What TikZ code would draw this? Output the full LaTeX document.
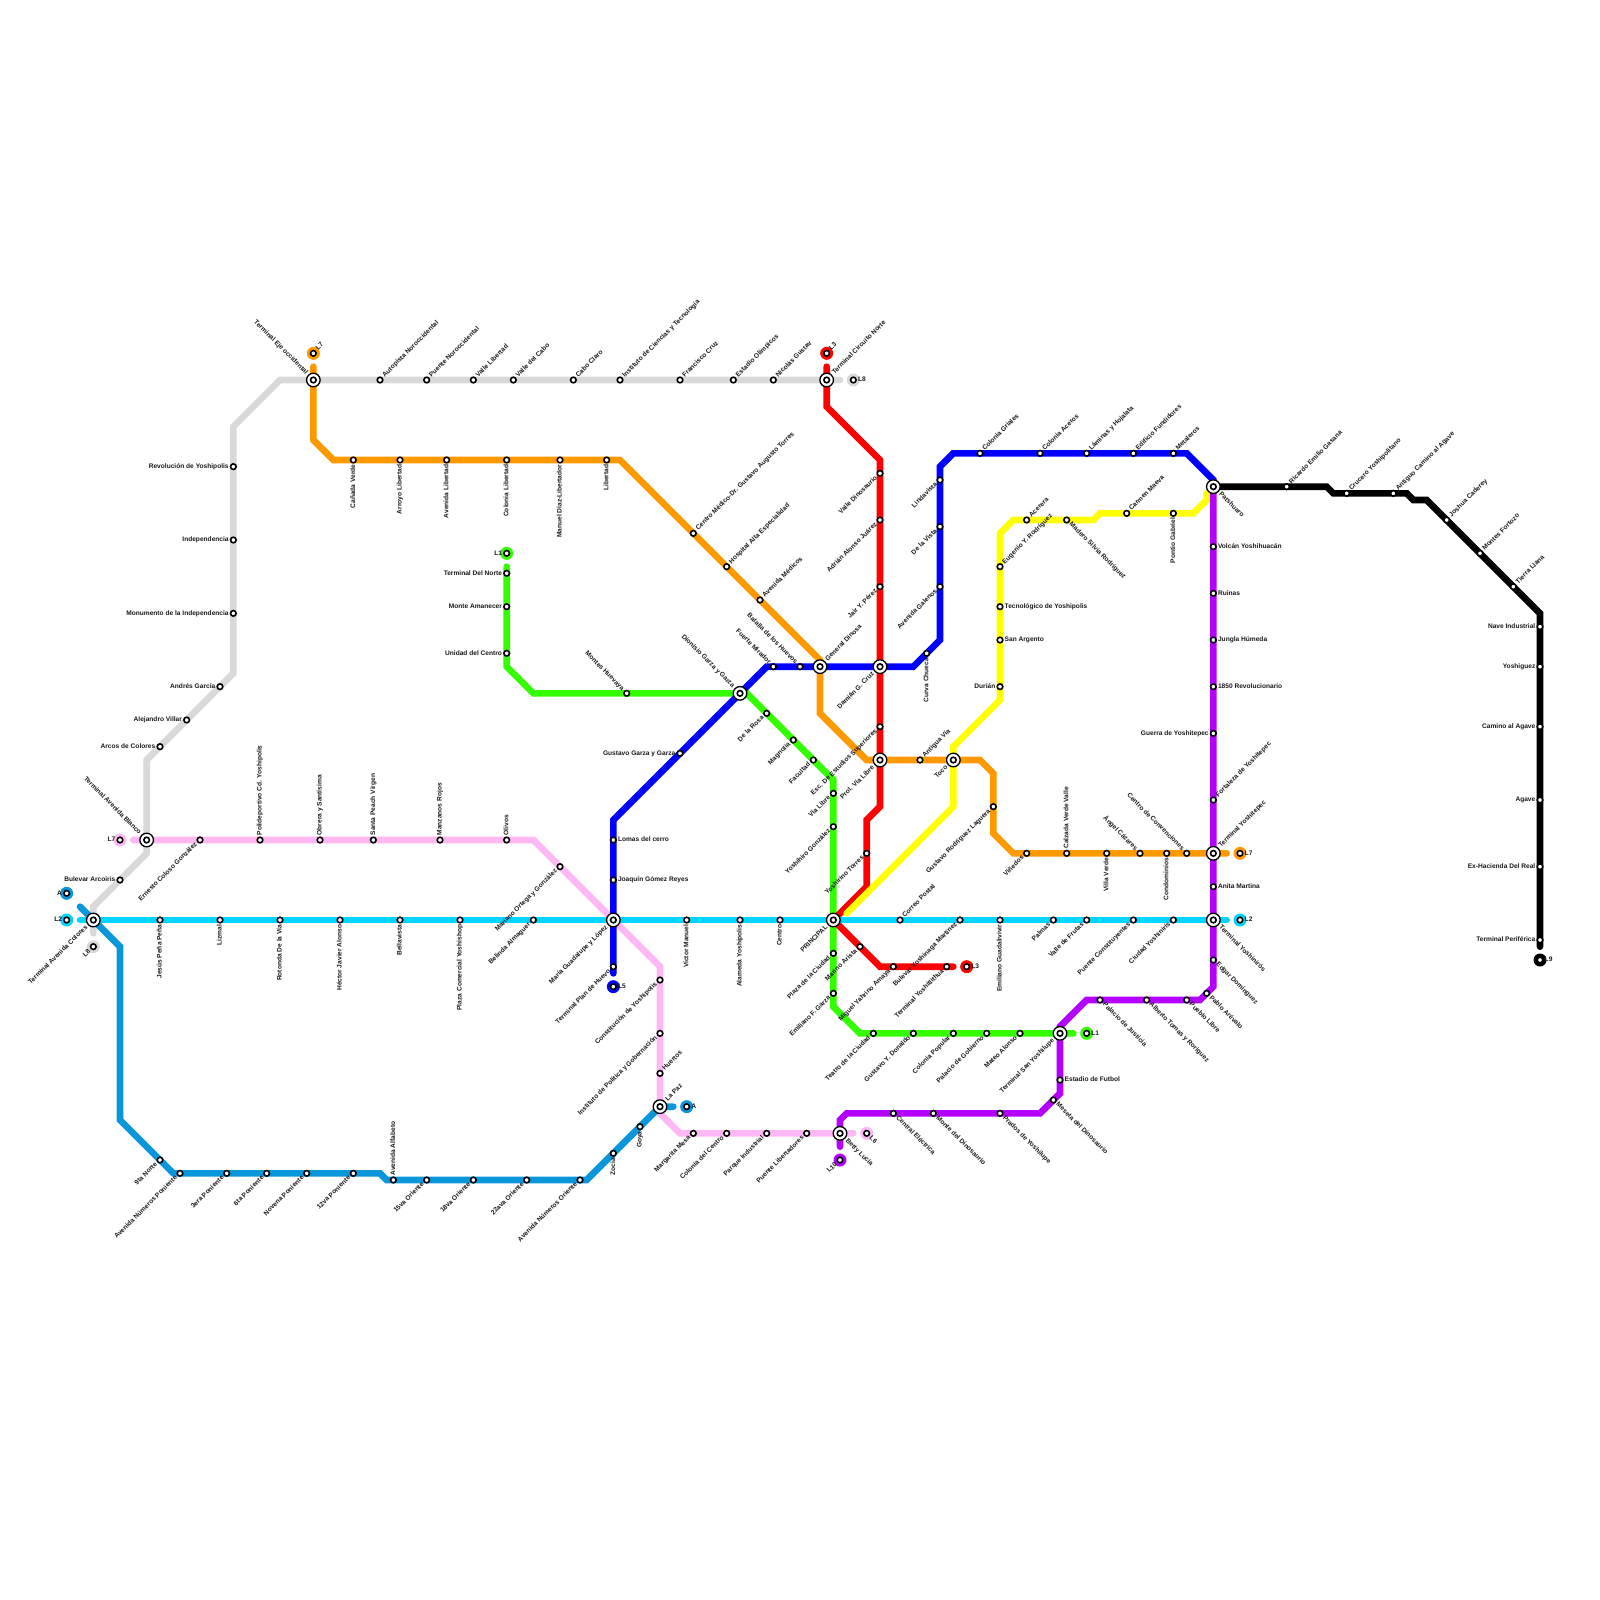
\documentclass[tikz,border=0pt]{standalone}
\usepackage{fontspec}
\setmainfont{Liberation Sans}
\definecolor{cL1}{HTML}{33FF00}
\definecolor{cL2}{HTML}{00D5FF}
\definecolor{cL3}{HTML}{FF0000}
\definecolor{cL4}{HTML}{FFFF00}
\definecolor{cL5}{HTML}{0000FF}
\definecolor{cL6}{HTML}{FFB8F6}
\definecolor{cL7}{HTML}{FF9900}
\definecolor{cL8}{HTML}{D9D9D9}
\definecolor{cL9}{HTML}{000000}
\definecolor{cL10}{HTML}{B300FF}
\definecolor{cLA}{HTML}{0A96DB}
\pgfdeclarelayer{lines}
\pgfsetlayers{lines,main}
\tikzset{
 metro/.style={line width=6.67pt,line cap=round,line join=miter,miter limit=10},
 stat/.style={circle,draw=black,fill=white,line width=1.6pt,inner sep=0pt,minimum size=5.6pt},
 ring/.style={circle,draw=black,fill=white,line width=1.3pt,inner sep=0pt,minimum size=13.6pt},
 halo/.style={circle,fill=#1,inner sep=0pt,minimum size=13pt},
 lab/.style={font=\bfseries\fontsize{6.6}{7}\selectfont,inner sep=0pt,text=black!90,text height=4.8pt,text depth=1.4pt},
 toR/.style={xshift={1.25*#1},anchor=west},
 toL/.style={xshift={-1.25*#1},anchor=east},
 toU/.style={yshift={1.25*#1},rotate=90,anchor=west},
 toD/.style={yshift={-1.25*#1},rotate=90,anchor=east},
 toUR/.style={shift={(#1,#1)},rotate=45,anchor=west},
 toDL/.style={shift={(-#1,-#1)},rotate=45,anchor=east},
 toUL/.style={shift={(-#1,#1)},rotate=-45,anchor=east},
 toDR/.style={shift={(#1,-#1)},rotate=-45,anchor=west},
}
% name x y dir text
\newcommand\st[5]{\node[stat] (#1) at (#2,#3) {};\node[lab,to#4=3.6pt] (#1-t) at (#2,#3) {#5};}
\newcommand\hub[5]{\node[ring] (#1-r) at (#2,#3) {};\node[stat] (#1) at (#2,#3) {};\node[lab,to#4=6.5pt] (#1-t) at (#2,#3) {#5};}
\newcommand\tm[6]{\node[halo=#4] (#1-h) at (#2,#3) {};\node[stat] (#1) at (#2,#3) {};\node[lab,to#5=3.6pt] (#1-t) at (#2,#3) {#6};}
\newcommand\bd[3]{\coordinate (#1) at (#2,#3);}
\begin{document}
\begin{tikzpicture}[x=6.66667pt,y=-6.66667pt]
\useasboundingbox (0,0) rectangle (240,240);
% hubs
\hub{eje}{47}{57}{UL}{Terminal Eje occidental}
\hub{circ}{124}{57}{UR}{Terminal Circuito Norte}
\hub{blanco}{22}{126}{UL}{Terminal Avenida Blanco}
\hub{colores}{14}{138}{DL}{Terminal Avenida Colores}
\hub{maria}{92}{138}{DL}{María Guadalupe y López}
\hub{princ}{125}{138}{DL}{PRINCIPAL}
\hub{dion}{111}{104}{UL}{Dionisio Garza y Garza}
\hub{dinosa}{123}{100}{UR}{General Dinosa}
\hub{damian}{132}{100}{DL}{Damián G. Cruz}
\hub{prol}{132}{114}{DL}{Prol. Vía Libre}
\hub{toco}{143}{114}{DL}{Toco}
\hub{patz}{182}{73}{DR}{Patshuaro}
\hub{yteq}{182}{128}{UR}{Terminal Yoshitepec}
\hub{ynir}{182}{138}{DR}{Terminal Yoshinirós}
\hub{sanyo}{159}{155}{DL}{Terminal San Yoshilupe}
\hub{betty}{126}{170}{DR}{Betty Lucía}
\hub{lapaz}{99}{166}{UR}{La Paz}
% terminals
\tm{t7a}{47}{53}{cL7}{UR}{L7}
\tm{t3a}{124}{53}{cL3}{UR}{L3}
\tm{t8b}{128}{57}{cL8}{R}{L8}
\tm{t6a}{18}{126}{cL6}{L}{L7}
\tm{tAa}{10}{134}{cLA}{L}{A}
\tm{t2a}{10}{138}{cL2}{L}{L2}
\tm{t8a}{14}{142}{cL8}{DL}{L8}
\tm{t1a}{76}{83}{cL1}{L}{L1}
\tm{t5a}{92}{148}{cL5}{R}{L5}
\tm{tAb}{103}{166}{cLA}{R}{A}
\tm{t6b}{130}{170}{cL6}{DR}{L6}
\tm{t10a}{126}{174}{cL10}{DL}{L10}
\tm{t3b}{145}{145}{cL3}{R}{L3}
\tm{t1b}{163}{155}{cL1}{R}{L1}
\tm{t7b}{186}{128}{cL7}{R}{L7}
\tm{t2b}{186}{138}{cL2}{R}{L2}
\tm{t9a}{231}{144}{cL9}{R}{L9}
% L8
\st{autop}{57}{57}{UR}{Autopista Noroccidental}
\st{puente}{64}{57}{UR}{Puente Noroccidental}
\st{vlib}{71}{57}{UR}{Valle Libertad}
\st{vcab}{77}{57}{UR}{Valle del Cabo}
\st{cabo}{86}{57}{UR}{Cabo Claro}
\st{inst}{93}{57}{UR}{Instituto de Ciencias y Tecnología}
\st{fran}{102}{57}{UR}{Francisco Cruz}
\st{estol}{110}{57}{UR}{Estadio Olímpicos}
\st{nico}{116}{57}{UR}{Nicolás Gustav}
\st{revo}{35}{70}{L}{Revolución de Yoshipolis}
\st{inde}{35}{81}{L}{Independencia}
\st{monu}{35}{92}{L}{Monumento de la Independencia}
\st{andres}{33}{103}{L}{Andrés García}
\st{aleja}{28}{108}{L}{Alejandro Villar}
\st{arcos}{24}{112}{L}{Arcos de Colores}
\st{bulev}{18}{132}{L}{Bulevar Arcoiris}
% L7
\st{canada}{53}{69}{D}{Cañada Verde}
\st{arroyo}{60}{69}{D}{Arroyo Libertad}
\st{avlib}{67}{69}{D}{Avenida Libertad}
\st{collib}{76}{69}{D}{Colonia Libertad}
\st{manuel}{84}{69}{D}{Manuel Díaz-Libertador}
\st{libert}{91}{69}{D}{Libertad}
\st{cmed}{104}{80}{UR}{Centro Médico-Dr. Gustavo Augusto Torres}
\st{hosp}{109}{85}{UR}{Hospital Alta Especialidad}
\st{avmed}{114}{90}{UR}{Avenida Médicos}
\st{antig}{138}{114}{UR}{Antigua Vía}
\st{gustr}{149}{121}{DL}{Gustavo Rodríguez Laguera}
\st{vined}{154}{128}{DL}{Viñedos}
\st{calz}{160}{128}{U}{Calzada Verde Valle}
\st{villa}{166}{128}{D}{Villa Verde}
\st{angel}{171}{128}{UL}{Ángel Cázares}
\st{condo}{175}{128}{D}{Condominios}
\st{conv}{178}{128}{UL}{Centro de Convenciones}
% L6
\st{ernes}{30}{126}{DL}{Ernesto Coloso González}
\st{polid}{39}{126}{U}{Polideportivo Cd. Yoshipolis}
\st{obrera}{48}{126}{U}{Obrera y Santísima}
\st{santa}{56}{126}{U}{Santa Peach Virgen}
\st{manz}{66}{126}{U}{Manzanos Rojos}
\st{oliv}{76}{126}{U}{Olivos}
\st{maort}{84}{130}{DL}{Mariano Ortega y González}
\st{const}{99}{147}{DL}{Constitución de Yoshipolis}
\st{ipol}{99}{155}{DL}{Instituto de Política y Gobernación}
\st{huer}{99}{161}{UR}{Huertos}
\st{marg}{104}{170}{DL}{Margarita Mesa}
\st{colc}{109}{170}{DL}{Colonia del Centro}
\st{parq}{115}{170}{DL}{Parque Industrial}
\st{plib}{121}{170}{DL}{Puente Libertadores}
% L2
\st{jesus}{24}{138}{D}{Jesús Peña Peña}
\st{lizm}{33}{138}{D}{Lizmal}
\st{roto}{42}{138}{D}{Rotonda De la Vía}
\st{hect}{51}{138}{D}{Héctor Javier Alonso}
\st{bella}{60}{138}{D}{Bellavista}
\st{plaz}{69}{138}{D}{Plaza Comercial Yoshishop}
\st{belin}{80}{138}{DL}{Belinda Almaguer}
\st{vict}{103}{138}{D}{Víctor Manuel}
\st{alam}{111}{138}{D}{Alameda Yoshipolis}
\st{centr}{117}{138}{D}{Centro}
\st{corr}{135}{138}{UR}{Correo Postal}
\st{bulv}{144}{138}{DL}{Bulevar Yoshinaga Martínez}
\st{emig}{150}{138}{D}{Emiliano Guadalivivir}
\st{palm}{158}{138}{DL}{Palmas}
\st{vfru}{163}{138}{DL}{Valle de Frutas}
\st{pcons}{170}{138}{DL}{Puente Constituyentes}
\st{cyos}{176}{138}{DL}{Ciudad Yoshinirís}
% L5
\st{tplan}{92}{145}{DL}{Terminal Plan de Huevo}
\st{lomas}{92}{126}{R}{Lomas del cerro}
\st{joaq}{92}{132}{R}{Joaquín Gómez Reyes}
\st{ggar}{102}{113}{L}{Gustavo Garza y Garza}
\st{fuer}{116}{100}{UL}{Fuerte Mirador}
\st{bata}{120}{100}{UL}{Batalla de los Huevos}
\st{curva}{139}{98}{D}{Curva Chueca}
\st{gale}{141}{88}{DL}{Avenida Galenos}
\st{dvis}{141}{79}{DL}{De la Vista}
\st{lind}{141}{72}{DL}{Lindavista}
\st{cgri}{147}{68}{UR}{Colonia Griales}
\st{cace}{156}{68}{UR}{Colonia Aceros}
\st{lami}{163}{68}{UR}{Láminas y Hojalata}
\st{edif}{170}{68}{UR}{Edificio Fundidores}
\st{meta}{176}{68}{UR}{Metaleros}
% L10
\st{volc}{182}{82}{R}{Volcán Yoshihuacán}
\st{ruin}{182}{89}{R}{Ruinas}
\st{jung}{182}{96}{R}{Jungla Húmeda}
\st{r1850}{182}{103}{R}{1850 Revolucionario}
\st{guer}{182}{110}{L}{Guerra de Yoshitepec}
\st{fort}{182}{120}{UR}{Fortaleza de Yoshitepec}
\st{anit}{182}{133}{R}{Anita Martina}
\st{edga}{182}{144}{DR}{Edgar Domínguez}
\st{pabl}{181}{149}{DR}{Pablo Arévalo}
\st{pueb}{178}{150}{DR}{Pueblo Libre}
\st{albe}{172}{150}{DR}{Alberto Tomas y Roriguez}
\st{pala}{165}{150}{DR}{Palacio de Justicia}
\st{esta}{159}{162}{R}{Estadio de Futbol}
\st{mese}{158}{165}{DR}{Meseta del Dinosaurio}
\st{prad}{150}{167}{DR}{Prados de Yoshilupe}
\st{mdin}{140}{167}{DR}{Monte del Dinosaurio}
\st{celc}{134}{167}{DR}{Central Eléctrica}
% L1
\st{tnor}{76}{86}{L}{Terminal Del Norte}
\st{mama}{76}{91}{L}{Monte Amanecer}
\st{ucen}{76}{98}{L}{Unidad del Centro}
\st{mhue}{94}{104}{UL}{Montes Huevaya}
\st{dros}{115}{107}{DL}{De la Rosa}
\st{magn}{119}{111}{DL}{Magnolia}
\st{facu}{122}{114}{DL}{Facultad}
\st{vlibr}{125}{119}{DL}{Vía Libre}
\st{yoshg}{125}{124}{DL}{Yoshihiro González}
\st{pciu}{125}{143}{DL}{Plaza de la Ciudad}
\st{emif}{125}{149}{DL}{Emiliano F. Garza}
\st{teat}{131}{155}{DL}{Teatro de la Ciudad}
\st{gdon}{137}{155}{DL}{Gustavo Y. Donaldo}
\st{cpop}{143}{155}{DL}{Colonia Popular}
\st{pgob}{148}{155}{DL}{Palacio de Gobierno}
\st{mate}{153}{155}{DL}{Mateo Alonso}
% L3
\st{vdin}{132}{71}{DL}{Valle Dinosaurio}
\st{adri}{132}{78}{DL}{Adrián Alonso Juárez}
\st{jair}{132}{88}{DL}{Jair Y. Pérez}
\st{escd}{132}{109}{DL}{Esc. De Estudios Superiores}
\st{ytor}{130}{128}{DL}{Yoshirino Torres}
\st{mari}{129}{142}{DL}{Marino Arista}
\st{migu}{134}{145}{DL}{Miguel Yahrino Amaya}
\st{tyos}{142}{145}{DL}{Terminal Yoshitlithua}
% L4
\st{duri}{150}{103}{L}{Durián}
\st{sarg}{150}{96}{R}{San Argento}
\st{tecn}{150}{91}{R}{Tecnológico de Yoshipolis}
\st{euge}{150}{85}{UR}{Eugenio Y. Rodríguez}
\st{acer}{154}{78}{UR}{Acerera}
\st{made}{160}{78}{DR}{Madero Silvia Rodríguez}
\st{carm}{169}{77}{UR}{Carmen Maeva}
\st{pont}{176}{77}{D}{Pontio Gabriel}
% L9
\st{rica}{193}{73}{UR}{Ricardo Emilio Gasana}
\st{cruc}{202}{74}{UR}{Crucero Yoshipolitano}
\st{anca}{209}{74}{UR}{Antiguo Camino al Agave}
\st{josh}{217}{78}{UR}{Joshua Caderey}
\st{mfor}{222}{83}{UR}{Montes Fortozo}
\st{tier}{227}{88}{UR}{Tierra Llana}
\st{nave}{231}{94}{L}{Nave Industrial}
\st{yosg}{231}{100}{L}{Yoshiguez}
\st{caag}{231}{109}{L}{Camino al Agave}
\st{agav}{231}{120}{L}{Agave}
\st{exha}{231}{130}{L}{Ex-Hacienda Del Real}
\st{tper}{231}{141}{L}{Terminal Periférica}
% LA
\st{norte}{24}{174}{DL}{9ta Norte}
\st{anpo}{27}{176}{DL}{Avenida Números Poniente}
\st{p3}{34}{176}{DL}{3era Poniente}
\st{p6}{40}{176}{DL}{6ta Poniente}
\st{p9}{46}{176}{DL}{Novena Poniente}
\st{p12}{53}{176}{DL}{12va Poniente}
\st{alfa}{59}{177}{U}{Avenida Alfabeto}
\st{o15}{64}{177}{DL}{15va Oriente}
\st{o18}{71}{177}{DL}{18va Oriente}
\st{o22}{79}{177}{DL}{22ava Oriente}
\st{anor}{87}{177}{DL}{Avenida Números Oriente}
\st{zoci}{92}{173}{D}{Zocia}
\st{goya}{96}{169}{D}{Goya}
% bends and stub ends
\bd{a1}{12}{136}\bd{a2}{18}{142}\bd{a3}{18}{168}\bd{a4}{26}{176}\bd{a5}{57}{176}\bd{a6}{58}{177}\bd{a7}{88}{177}\bd{a8}{101}{166}
\bd{g0}{14}{140}\bd{g1}{14}{136}\bd{g2}{22}{128}\bd{g3}{22}{114}\bd{g4}{35}{101}\bd{g5}{35}{64}\bd{g6}{42}{57}\bd{g7}{126}{57}
\bd{o0}{47}{55}\bd{o1}{47}{66}\bd{o2}{50}{69}\bd{o3}{93}{69}\bd{o4}{123}{99}\bd{o5}{123}{107}\bd{o6}{130}{114}\bd{o7}{147}{114}\bd{o8}{149}{116}\bd{o9}{149}{125}\bd{o10}{152}{128}\bd{o11}{184}{128}
\bd{pk0}{20}{126}\bd{pk1}{80}{126}\bd{pk2}{99}{145}\bd{pk3}{99}{167}\bd{pk4}{102}{170}\bd{pk5}{128}{170}
\bd{c0}{12}{138}\bd{c1}{184}{138}
\bd{b0}{92}{146}\bd{b1}{92}{123}\bd{b2}{115}{100}\bd{b3}{137}{100}\bd{b4}{141}{96}\bd{b5}{141}{70}\bd{b6}{143}{68}\bd{b7}{178}{68}\bd{b8}{182}{72}
\bd{v1}{182}{148}\bd{v2}{180}{150}\bd{v3}{163}{150}\bd{v4}{159}{154}\bd{v5}{159}{164}\bd{v6}{156}{167}\bd{v7}{127}{167}\bd{v8}{126}{168}\bd{v9}{126}{172}
\bd{l0}{76}{85}\bd{l1}{76}{100}\bd{l2}{80}{104}\bd{l3}{112}{104}\bd{l4}{125}{117}\bd{l5}{125}{151}\bd{l6}{129}{155}\bd{l7}{161}{155}
\bd{r0}{124}{55}\bd{r1}{124}{61}\bd{r2}{132}{69}\bd{r3}{132}{121}\bd{r4}{130}{123}\bd{r5}{130}{133}\bd{r6}{132}{145}\bd{r7}{143}{145}
\bd{y0}{127}{137}\bd{y1}{143}{121}\bd{y2}{143}{112}\bd{y3}{150}{105}\bd{y4}{150}{80}\bd{y5}{152}{78}\bd{y6}{164}{78}\bd{y7}{165}{77}\bd{y8}{179}{77}\bd{y9}{181}{75}\bd{y10}{181}{74}
\bd{k1}{199}{73}\bd{k2}{200}{74}\bd{k3}{211}{74}\bd{k4}{212}{75}\bd{k5}{214}{75}\bd{k6}{231}{92}\bd{k7}{231}{142}
\begin{pgfonlayer}{lines}
\draw[metro,cL1] (l0)--(l1)--(l2)--(dion.center)--(l3)--(l4)--(princ.center)--(l5)--(l6)--(l7);
\draw[metro,cL3] (r0)--(r1)--(r2)--(r3)--(r4)--(r5)--(princ.center)--(r6)--(r7);
\draw[metro,cL4] (y0)--(y1)--(y2)--(y3)--(y4)--(y5)--(y6)--(y7)--(y8)--(y9)--(y10)--(patz.center);
\draw[metro,cL6] (pk0)--(pk1)--(pk2)--(pk3)--(pk4)--(pk5);
\draw[metro,cL2] (c0)--(c1);
\draw[metro,cL5] (b0)--(b1)--(b2)--(b3)--(b4)--(b5)--(b6)--(b7)--(b8)--(patz.center);
\draw[metro,cL7] (o0)--(o1)--(o2)--(o3)--(o4)--(dinosa.center)--(o5)--(o6)--(o7)--(o8)--(o9)--(o10)--(o11);
\draw[metro,cL8] (g0)--(g1)--(g2)--(g3)--(g4)--(g5)--(g6)--(g7);
\draw[metro,cL9] (patz.center)--(k1)--(k2)--(k3)--(k4)--(k5)--(k6)--(k7);
\draw[metro,cL10] (patz.center)--(v1)--(v2)--(v3)--(v4)--(v5)--(v6)--(v7)--(v8)--(v9);
\draw[metro,cLA] (a1)--(a2)--(a3)--(a4)--(a5)--(a6)--(a7)--(lapaz.center)--(a8);
\end{pgfonlayer}
\end{tikzpicture}
\end{document}
